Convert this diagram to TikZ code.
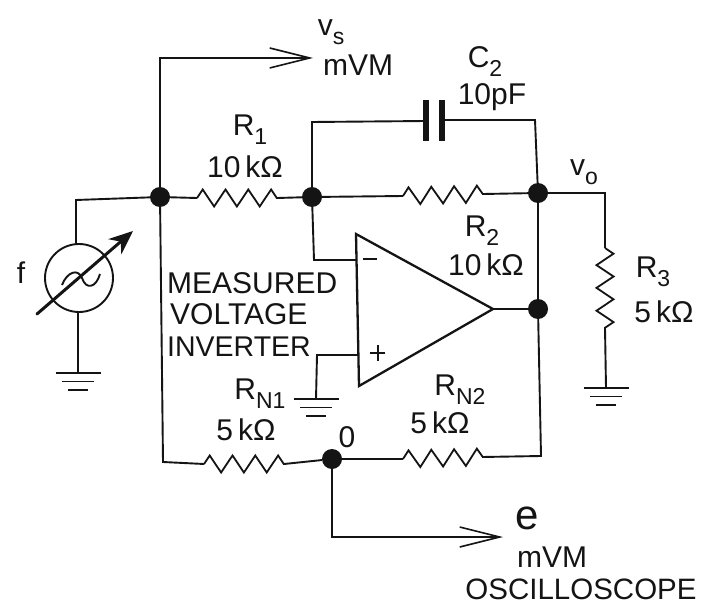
\documentclass[tikz,border=0pt]{standalone}
\usepackage{fontspec}
\setmainfont{Liberation Sans}
\usetikzlibrary{decorations.pathmorphing,arrows.meta,calc}
\definecolor{ink}{gray}{0.08}
\tikzset{
 wire/.style={line width=1.9pt,ink},
 lbl/.style={font=\fontsize{30}{32}\selectfont,inner sep=0pt,text=ink},
 dot/.style={circle,fill=ink,inner sep=0pt,minimum size=20pt},
 res/.style={line width=1.8pt,ink,decorate,decoration={zigzag,segment length=22.8pt,amplitude=8.5pt}},
 open/.style={-{Straight Barb[length=40pt,width=20pt,line width=1.6pt]}}
}
\newcommand{\subsc}[2]{#1\raisebox{-9pt}{\fontsize{23}{23}\selectfont #2}}
\newcommand{\gndsym}[1]{%
 \draw[wire] ($(#1)+(-22.5pt,0)$) -- ($(#1)+(22.5pt,0)$);
 \draw[wire] ($(#1)+(-16pt,-8.5pt)$) -- ($(#1)+(16pt,-8.5pt)$);
 \draw[wire] ($(#1)+(-10pt,-17pt)$) -- ($(#1)+(10pt,-17pt)$);}
\begin{document}
\begin{tikzpicture}[x=1pt,y=-1pt]
\useasboundingbox (0,0) rectangle (703,604);
\fill[white] (0,0) rectangle (703,604);
% junctions
\node[dot] (a) at (160,197) {};
\node[dot] (b) at (312,197) {};
\node[dot] (c) at (538,193) {};
\node[dot] (d) at (538,309) {};
\node[dot] (o) at (332,459) {};
% coordinates
\coordinate (vs) at (313,58);
\coordinate (e) at (503,537);
\coordinate (srcT) at (76,200);
\coordinate (srcTb) at (76,244);
\coordinate (srcBt) at (78,312);
\coordinate (srcB) at (78,373);
\coordinate (g3) at (606,388);
\coordinate (g4) at (316,399);
\coordinate (tipA) at (493,309);
% source
\node[circle,draw=ink,line width=1.9pt,minimum size=68pt,inner sep=0pt] (src) at (79,278) {};
\draw[wire] (srcTb) -- (srcT) -- (a);
\draw[wire] (srcBt) -- (srcB);
\gndsym{srcB}
\draw[wire] (62,285) .. controls (67,272) and (78,268) .. (82,278) .. controls (86,290) and (96,288) .. (100,274);
\coordinate (arA) at (37,314);
\coordinate (arB) at (133,231);
\draw[line width=3pt,ink,line cap=round,-{Stealth[length=24pt,width=20pt]}] (arA) -- (arB);
% vs
\draw[wire,open] (a) -- (160,58) -- (vs);
% R1
\coordinate (r1a) at (197,198); \coordinate (r1b) at (277,198);
\draw[wire] (a) -- (r1a); \draw[wire] (r1b) -- (b);
\draw[res] (r1a) -- (r1b);
% R2
\coordinate (r2a) at (403,196); \coordinate (r2b) at (483,194);
\draw[wire] (b) -- (r2a); \draw[wire] (r2b) -- (c);
\draw[res] (r2a) -- (r2b);
% C2
\coordinate (c1) at (426,121); \coordinate (c2) at (442,120);
\draw[wire] (b) -- (312,122) -- (c1);
\draw[wire] (c) -- (535,120) -- (c2);
\draw[line width=6pt,ink] (c1 |- 0,100) -- (c1 |- 0,141);
\draw[line width=6pt,ink] (c2 |- 0,100) -- (c2 |- 0,141);
% opamp
\coordinate (A1) at (356,234); \coordinate (A2) at (359,386);
\draw[line width=2.3pt,ink,line join=miter] (A1) -- (tipA) -- (A2) -- cycle;
\draw[wire] (tipA) -- (d);
\draw[wire] (b) -- (314,260) -- (357,260);
\draw[wire] (358,355) -- (317,355) -- (g4);
\gndsym{g4}
\draw[line width=2pt,ink] (363,259) -- (377,259);
\draw[line width=2.2pt,ink] (370,353) -- (385,353) (378,345) -- (378,361);
% output
\draw[wire] (c) -- (d) -- (541,456) -- (482,457);
\draw[wire] (c) -- (605,193) -- (605,248);
\coordinate (r3a) at (605,248); \coordinate (r3b) at (605,328);
\draw[res] (r3a) -- (r3b);
\draw[wire] (r3b) -- (g3);
\gndsym{g3}
% RN
\coordinate (n1a) at (204,464); \coordinate (n1b) at (284,464);
\coordinate (n2a) at (403,459); \coordinate (n2b) at (483,457);
\draw[wire] (a) -- (163,462) -- (n1a);
\draw[res] (n1a) -- (n1b);
\draw[wire] (n1b) -- (o);
\draw[wire] (o) -- (n2a);
\draw[res] (n2a) -- (n2b);
% e
\draw[wire,open] (o) -- (332,537) -- (e);
% labels
\node[lbl] (t1) at (331,32) {\subsc{v}{s}};
\node[lbl] (t2) at (358,65) {mVM};
\node[lbl] (t3) at (485,62) {\subsc{C}{2}};
\node[lbl] (t4) at (492,97) {10pF};
\node[lbl] (t5) at (250,130) {\subsc{R}{1}};
\node[lbl] (t6) at (245,167) {10\,kΩ};
\node[lbl] (t7) at (584,172) {\subsc{v}{o}};
\node[lbl] (t8) at (482,231) {\subsc{R}{2}};
\node[lbl] (t9) at (486,265) {10\,kΩ};
\node[lbl] (t10) at (653,272) {\subsc{R}{3}};
\node[lbl] (t11) at (664,312) {5\,kΩ};
\node[lbl] (t12) at (21,273) {f};
\node[lbl,anchor=west] (t13) at (167,283) {MEASURED};
\node[lbl,anchor=west] (t14) at (170,314) {VOLTAGE};
\node[lbl,anchor=west,font=\fontsize{28.5}{30}\selectfont] (t15) at (167,347) {INVERTER};
\node[lbl] (t16) at (260,394) {\subsc{R}{N1}};
\node[lbl] (t17) at (246,430) {5\,kΩ};
\node[lbl] (t18) at (460,390) {\subsc{R}{N2}};
\node[lbl] (t19) at (440,423) {5\,kΩ};
\node[lbl] (t20) at (347,437) {0};
\node[lbl,font=\fontsize{42}{44}\selectfont] (t21) at (527,518) {e};
\node[lbl] (t22) at (552,557) {mVM};
\node[lbl,font=\fontsize{29.5}{31}\selectfont] (t23) at (581,589) {OSCILLOSCOPE};
\end{tikzpicture}
\end{document}
